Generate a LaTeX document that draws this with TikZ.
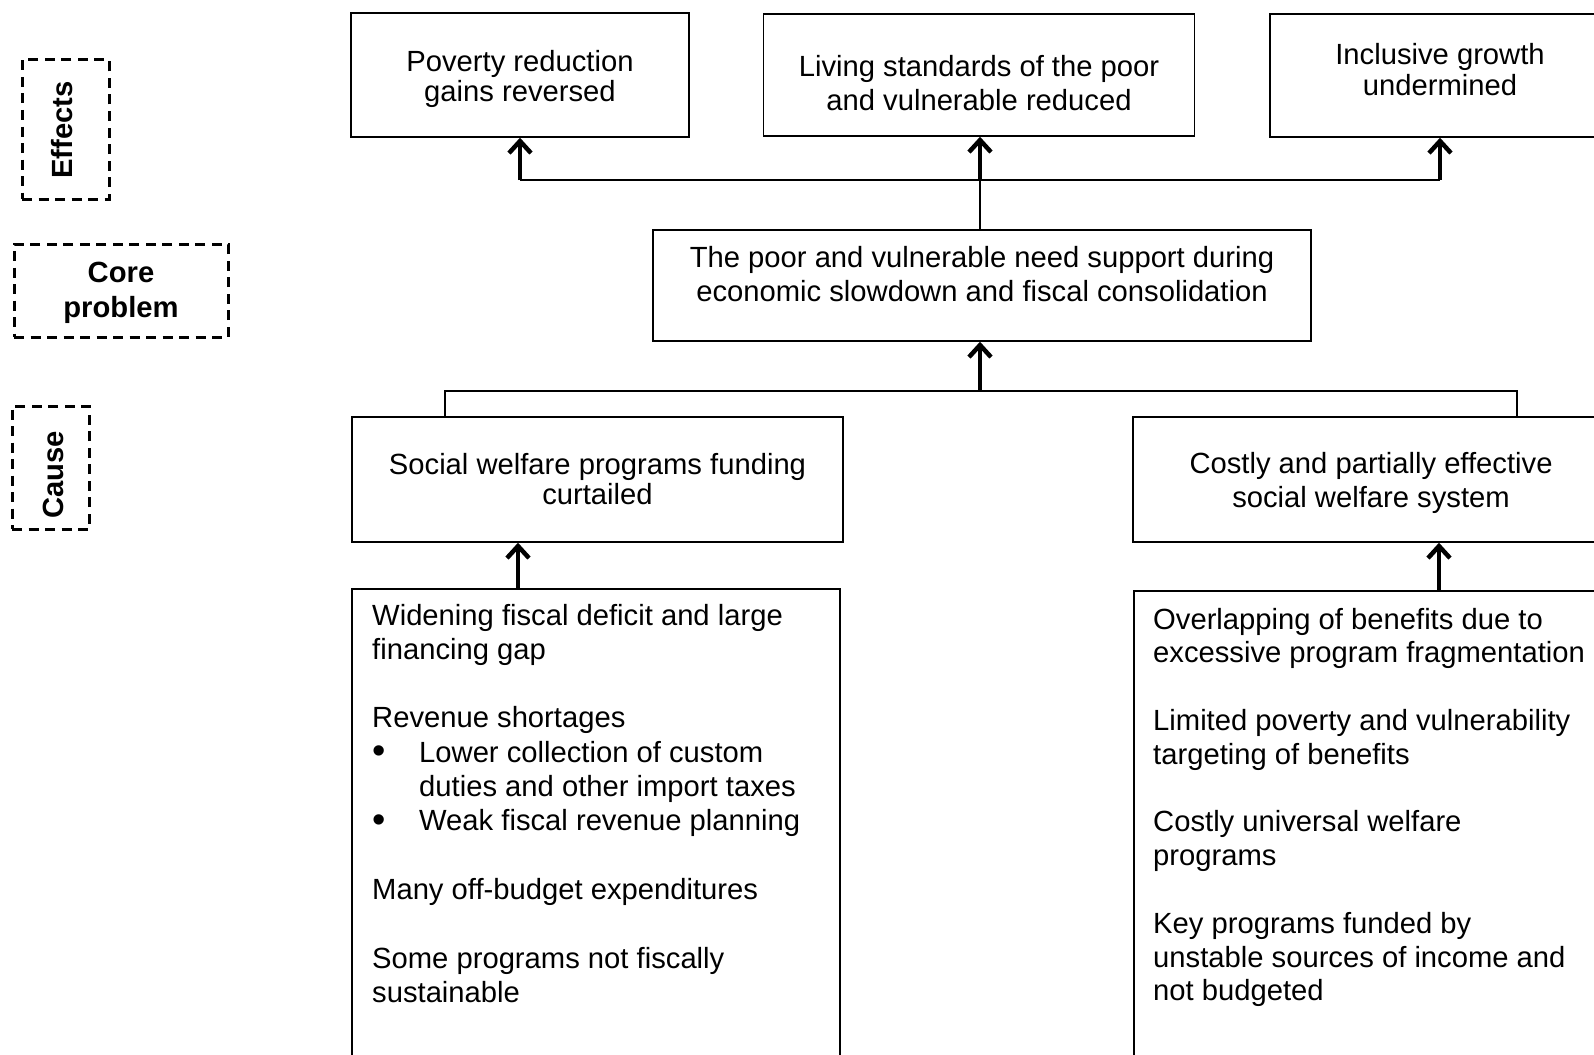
\documentclass[tikz,border=0pt]{standalone}
\usepackage{fontspec}
\setmainfont{Liberation Sans}
\usetikzlibrary{arrows.meta}
\newcommand\mycbox[3]{\parbox[t]{#1pt}{\centering\fontsize{29.2}{#2}\selectfont #3}}
\newcommand\mylbox[3]{\parbox[t]{#1pt}{\raggedright\fontsize{29.2}{#2}\selectfont #3}}
\newcommand\mybul{\makebox[47pt][l]{\raisebox{-1.5pt}{\fontsize{38}{34}\selectfont\textbullet}}}
\begin{document}
\begin{tikzpicture}[x=1pt,y=-1pt,
  box/.style={draw, line width=1.5pt, inner sep=0pt},
  lbl/.style={draw, dash pattern=on 10pt off 6.5pt, line width=3pt, inner sep=0pt},
  conn/.style={line width=1.5pt},
  up/.style={line width=4.5pt, -{Straight Barb[length=12pt,width=22pt]}},
  txt/.style={inner sep=0pt, anchor=base},
  txtl/.style={inner sep=0pt, anchor=base west}]
\useasboundingbox (0,0) rectangle (1594,1054);
\clip (0,0) rectangle (1594,1054);
% label boxes
\node[lbl, minimum width=87pt, minimum height=139pt] (leff) at (65.5,129.5) {};
\node[lbl, minimum width=214pt, minimum height=93pt] (lcore) at (121,290.5) {};
\node[lbl, minimum width=77pt, minimum height=123pt] (lcause) at (50.5,467.5) {};
\node[txt, rotate=90] (teff) at (72,130) {\fontsize{29.2}{34}\selectfont\bfseries Effects};
\node[txt] (tcore) at (121,282.5) {\mycbox{214}{34.5}{\bfseries Core\\problem}};
\node[txt, rotate=90] (tcause) at (63,475) {\fontsize{29.2}{34}\selectfont\bfseries Cause};
% effect boxes
\node[box, minimum width=338pt, minimum height=124pt] (e1) at (520,75) {};
\node[box, minimum width=431pt, minimum height=122pt] (e2) at (979,75) {};
\node[box, minimum width=340pt, minimum height=123pt] (e3) at (1440,75.5) {};
\node[txt] (te1) at (520,71.5) {\mycbox{338}{30}{Poverty reduction\\gains reversed}};
\node[txt] (te2) at (979,76.5) {\mycbox{431}{34}{Living standards of the poor\\and vulnerable reduced}};
\node[txt] (te3) at (1440,64.5) {\mycbox{340}{31.5}{Inclusive growth\\undermined}};
% core
\node[box, minimum width=658pt, minimum height=111pt] (core) at (982,285.5) {};
\node[txt] (tcorep) at (982,267) {\mycbox{658}{34}{The poor and vulnerable need support during\\economic slowdown and fiscal consolidation}};
% causes
\node[box, minimum width=491pt, minimum height=125pt] (cl) at (597.5,479.5) {};
\node[box, minimum width=476pt, minimum height=125pt] (cr) at (1371,479.5) {};
\node[txt] (tcl) at (597.5,474.5) {\mycbox{491}{29.5}{Social welfare programs funding\\curtailed}};
\node[txt] (tcr) at (1371,473.5) {\mycbox{476}{33.5}{Costly and partially effective\\social welfare system}};
% lower boxes
\node[box, minimum width=488pt, minimum height=491pt] (bl) at (596,834.5) {};
\node[box, minimum width=486pt, minimum height=489pt] (br) at (1377,835.5) {};
\node[txtl] (tbl) at (372,625) {\mylbox{470}{34.3}{Widening fiscal deficit and large\\financing gap\\\mbox{}\\Revenue shortages\\\mybul Lower collection of custom\\\hspace*{47pt}duties and other import taxes\\\mybul Weak fiscal revenue planning\\\mbox{}\\Many off-budget expenditures\\\mbox{}\\Some programs not fiscally\\sustainable}};
\node[txtl] (tbr) at (1153,629) {\mylbox{470}{33.8}{Overlapping of benefits due to\\excessive program fragmentation\\\mbox{}\\Limited poverty and vulnerability\\targeting of benefits\\\mbox{}\\Costly universal welfare\\programs\\\mbox{}\\Key programs funded by\\unstable sources of income and\\not budgeted}};
% connectors top
\coordinate (t1) at (520,180);
\coordinate (t2) at (980,180);
\coordinate (t3) at (1440,180);
\draw[conn] (t1) -- (t3);
\draw[conn] (t2) -- (t2 |- core.north);
\draw[up] (t1) -- (e1.south);
\draw[up] (t2) -- (t2 |- e2.south);
\draw[up] (t3) -- (e3.south);
% connectors middle
\coordinate (m) at (980,391);
\coordinate (ml) at (445,391);
\coordinate (mr) at (1517,391);
\draw[conn] (ml |- cl.north) -- (ml) -- (mr) -- (mr |- cr.north);
\draw[up] (m) -- (m |- core.south);
% connectors lower
\coordinate (a1) at (518,589);
\coordinate (a2) at (1439,591);
\draw[up] (a1) -- (a1 |- cl.south);
\draw[up] (a2) -- (a2 |- cr.south);
\end{tikzpicture}
\end{document}
